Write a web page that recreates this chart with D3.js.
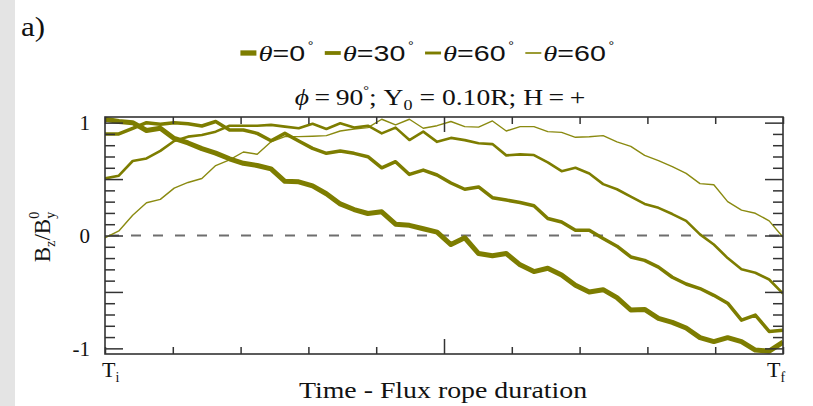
<!DOCTYPE html>
<html>
<head>
<meta charset="utf-8">
<script src="https://cdn.jsdelivr.net/npm/d3@7"></script>
<style>
  html, body { margin: 0; padding: 0; background: #fff; }
  svg { display: block; }
</style>
</head>
<body>
<svg id="chart" width="813" height="406"></svg>
<script>
// ---------------- data ----------------
const seriesNames = ["θ=0", "θ=30", "θ=60", "θ=60"];
const theta0 = [1.03, 1.01, 1.00, 0.93, 0.95, 0.86, 0.82, 0.77, 0.73, 0.68,
  0.64, 0.62, 0.59, 0.48, 0.476, 0.44, 0.37, 0.28, 0.23, 0.195,
  0.21, 0.10, 0.09, 0.06, 0.03, -0.08, -0.02, -0.16, -0.18, -0.16,
  -0.26, -0.32, -0.29, -0.35, -0.44, -0.50, -0.48, -0.55, -0.66, -0.655,
  -0.735, -0.77, -0.82, -0.905, -0.94, -0.905, -0.94, -1.015, -1.025, -0.945];
const theta30 = [0.90, 0.90, 0.95, 1.00, 0.985, 1.00, 0.99, 0.97, 1.01, 0.935,
  0.935, 0.905, 0.84, 0.905, 0.837, 0.772, 0.728, 0.749, 0.728, 0.698,
  0.60, 0.654, 0.541, 0.58, 0.536, 0.465, 0.41, 0.43, 0.335, 0.314,
  0.293, 0.263, 0.15, 0.12, 0.047, 0.047, -0.027, -0.095, -0.19, -0.22,
  -0.28, -0.37, -0.43, -0.47, -0.53, -0.60, -0.75, -0.705, -0.85, -0.84];
const theta60a = [0.506, 0.53, 0.66, 0.683, 0.75, 0.837, 0.876, 0.89, 0.92, 0.973,
  0.973, 0.973, 0.98, 0.965, 0.95, 0.99, 0.944, 0.994, 0.956, 0.973,
  0.905, 0.956, 0.846, 0.92, 0.83, 0.865, 0.845, 0.817, 0.81, 0.71,
  0.719, 0.713, 0.648, 0.57, 0.60, 0.55, 0.455, 0.41, 0.345, 0.28,
  0.245, 0.19, 0.13, 0.01, -0.08, -0.20, -0.30, -0.33, -0.39, -0.515];
const theta60b = [-0.02, 0.04, 0.18, 0.29, 0.32, 0.42, 0.47, 0.505, 0.62, 0.67,
  0.74, 0.72, 0.83, 0.876, 0.876, 0.88, 0.885, 0.926, 0.944, 0.956,
  1.03, 0.98, 1.03, 0.95, 0.973, 1.01, 0.965, 0.96, 1.015, 0.926,
  0.965, 0.965, 0.92, 0.914, 0.87, 0.875, 0.885, 0.83, 0.79, 0.71,
  0.663, 0.61, 0.55, 0.46, 0.45, 0.30, 0.225, 0.197, 0.13, -0.015];
const seriesValues = [theta0, theta30, theta60a, theta60b];
const xMinorTicks = [0, 0.1, 0.2, 0.3, 0.4, 0.6, 0.7, 0.8, 0.9, 1];
const xMajorTicks = [0.5];
const yMinorTicks = [-0.9, -0.8, -0.7, -0.6, -0.4, -0.3, -0.2, -0.1, 0.1, 0.2, 0.3, 0.4, 0.6, 0.7, 0.8, 0.9];
const yMajorTicks = [-1, -0.5, 0, 0.5, 1];
const yLabelTicks = [-1, 0, 1];
const legendLabels = ["0", "30", "60", "60"];

// ---------------- styling / layout ----------------
const serif = "'Liberation Serif', 'Times New Roman', serif";
const sans = "'Liberation Sans', Arial, Helvetica, sans-serif";
const olive = "#7d7d00";
const widths = [5, 3.5, 2.6, 1.4];
const strokes = [olive, olive, olive, "#8a8a10"];
const axisColor = "#333";
const ink = "#111";

const svg = d3.select("#chart");
const L = 105, R = 783, T = 117, B = 354;

svg.append("rect").attr("x", 0).attr("y", 0).attr("width", 15).attr("height", 406).attr("fill", "#e4e4e4");

const x = d3.scaleLinear().domain([0, 1]).range([L, R]);
const xi = d3.scaleLinear().domain([0, theta0.length - 1]).range([L, R]);
const y = d3.scaleLinear().domain([-1.05, 1.05]).range([B, T]);

// zero dashed line
svg.append("line")
  .attr("x1", L).attr("x2", R).attr("y1", y(0)).attr("y2", y(0))
  .attr("stroke", "#6e6e6e").attr("stroke-width", 2).attr("stroke-dasharray", "10,12")
  .attr("stroke-dashoffset", -4);

// lines
const lineGen = d3.line().x((d, i) => xi(i)).y(d => y(d));
svg.append("clipPath").attr("id", "clip").append("rect")
  .attr("x", L).attr("y", T - 2).attr("width", R - L).attr("height", B - T + 4);
const lg = svg.append("g").attr("clip-path", "url(#clip)");
seriesValues.slice().reverse().forEach((vals, k) => {
  const idx = seriesValues.length - 1 - k;
  lg.append("path").datum(vals)
    .attr("d", lineGen)
    .attr("fill", "none")
    .attr("stroke", strokes[idx])
    .attr("stroke-width", widths[idx])
    .attr("stroke-linejoin", "round");
});

// axes (ticks inward)
function styleAxis(g) {
  g.select(".domain").remove();
  g.selectAll(".tick line").attr("stroke", axisColor).attr("stroke-width", 1.5);
}
svg.append("g").attr("transform", `translate(0,${B})`)
  .call(d3.axisBottom(x).tickValues(xMinorTicks).tickSize(-7).tickFormat("")).call(styleAxis);
svg.append("g").attr("transform", `translate(0,${B})`)
  .call(d3.axisBottom(x).tickValues(xMajorTicks).tickSize(-15).tickFormat("")).call(styleAxis);
svg.append("g").attr("transform", `translate(0,${T})`)
  .call(d3.axisTop(x).tickValues(xMinorTicks).tickSize(-7).tickFormat("")).call(styleAxis);
svg.append("g").attr("transform", `translate(0,${T})`)
  .call(d3.axisTop(x).tickValues(xMajorTicks).tickSize(-15).tickFormat("")).call(styleAxis);
svg.append("g").attr("transform", `translate(${L},0)`)
  .call(d3.axisLeft(y).tickValues(yMinorTicks).tickSize(-10).tickFormat("")).call(styleAxis);
svg.append("g").attr("transform", `translate(${L},0)`)
  .call(d3.axisLeft(y).tickValues(yMajorTicks).tickSize(-18).tickFormat("")).call(styleAxis);
svg.append("g").attr("transform", `translate(${R},0)`)
  .call(d3.axisRight(y).tickValues(yMinorTicks).tickSize(-10).tickFormat("")).call(styleAxis);
svg.append("g").attr("transform", `translate(${R},0)`)
  .call(d3.axisRight(y).tickValues(yMajorTicks).tickSize(-18).tickFormat("")).call(styleAxis);

// y tick labels
const yl = svg.append("g").attr("transform", `translate(${L},0)`)
  .call(d3.axisLeft(y).tickValues(yLabelTicks).tickSize(0).tickPadding(15).tickFormat(d => String(d)));
yl.select(".domain").remove();
yl.selectAll("text").attr("font-family", serif).attr("font-size", 21).attr("fill", ink);

// frame
svg.append("rect").attr("x", L).attr("y", T).attr("width", R - L).attr("height", B - T)
  .attr("fill", "none").attr("stroke", axisColor).attr("stroke-width", 1.6);

// x end labels
function tLabel(xpos, sub) {
  const t = svg.append("text").attr("x", xpos).attr("y", 377)
    .attr("font-family", serif).attr("font-size", 22).attr("fill", ink);
  t.append("tspan").text("T");
  t.append("tspan").attr("font-size", 14).attr("dy", 5).text(sub);
}
tLabel(x(0) - 3, "i");
tLabel(x(1) - 16, "f");

// x title
svg.append("text").attr("transform", "translate(443,398) scale(1.16,1)").attr("text-anchor", "middle")
  .attr("font-family", serif).attr("font-size", 24).attr("fill", ink)
  .text("Time - Flux rope duration");

// y title
const yt = svg.append("text").attr("transform", "translate(50,237) rotate(-90)")
  .attr("text-anchor", "middle").attr("font-family", serif).attr("font-size", 23).attr("fill", ink);
yt.append("tspan").text("B");
yt.append("tspan").attr("font-size", 14).attr("dy", 5).text("z");
yt.append("tspan").attr("dy", -5).text("/B");
yt.append("tspan").attr("font-size", 14).attr("dy", 5).text("y");
yt.append("tspan").attr("font-size", 14).attr("dx", -7).attr("dy", -16).text("0");

// panel label
svg.append("text").attr("transform", "translate(21,36) scale(1.15,1)").attr("font-family", serif)
  .attr("font-size", 27).attr("fill", ink).text("a)");

// title
const tt = svg.append("text").attr("transform", "translate(440,105) scale(1.2,1)").attr("text-anchor", "middle")
  .attr("font-family", serif).attr("font-size", 23).attr("fill", ink);
tt.append("tspan").attr("font-style", "italic").text("ϕ");
tt.append("tspan").text("\u2009=\u200990");
tt.append("tspan").attr("font-size", 12).attr("dy", -11).text("°");
tt.append("tspan").attr("dy", 11).text("; Y");
tt.append("tspan").attr("font-size", 15).attr("dy", 5).text("0");
tt.append("tspan").attr("dy", -5).text(" = 0.10R; H\u2009=\u2009+");

// legend
const legSx = 1.3;
const leg = svg.append("g");
let cx = 0;
seriesNames.forEach((name, k) => {
  const g = leg.append("g").attr("transform", `translate(${cx},0)`);
  g.append("line").attr("x1", 0).attr("x2", 16).attr("y1", -8).attr("y2", -8)
    .attr("stroke", strokes[k]).attr("stroke-width", widths[k] + 0.3);
  const t = g.append("text").attr("transform", `translate(18,0) scale(${legSx},1)`)
    .attr("font-size", 22).attr("fill", ink);
  t.append("tspan").attr("font-family", serif).attr("font-style", "italic").text("θ");
  t.append("tspan").attr("font-family", sans).text("=" + legendLabels[k]);
  t.append("tspan").attr("font-family", sans).attr("font-size", 11).attr("dx", 2).attr("dy", -12).text("°");
  const w = 18 + t.node().getComputedTextLength() * legSx;
  cx += w + 14;
});
const legW = cx - 14;
leg.attr("transform", `translate(${426 - legW / 2},61)`);
</script>
</body>
</html>
